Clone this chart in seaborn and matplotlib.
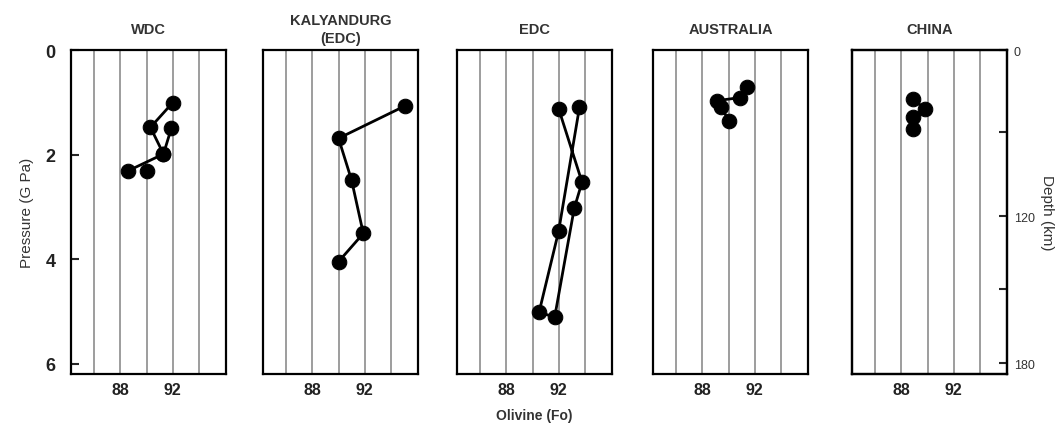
import numpy as np
import pandas as pd
import seaborn as sns
import matplotlib.pyplot as plt

sns.set_style('white')
plt.rcParams['font.family'] = ['Liberation Sans', 'DejaVu Sans']

# olivine Fo vs pressure (GPa), one list per site; seg = connected line
sites = ['WDC', 'KALYANDURG\n(EDC)', 'EDC', 'AUSTRALIA', 'CHINA']

wdc_fo = [92.0, 90.3, 91.3, 88.6, 91.9, 91.3, 90.0]
wdc_p = [1.01, 1.48, 1.99, 2.31, 1.50, 1.99, 2.31]
wdc_seg = [0, 0, 0, 0, 1, 1, 2]

kal_fo = [95.1, 90.0, 91.0, 91.9, 90.0]
kal_p = [1.07, 1.69, 2.49, 3.51, 4.05]
kal_seg = [0, 0, 0, 0, 0]

edc_fo = [92.0, 93.8, 93.2, 91.7, 90.5, 92.0, 93.6]
edc_p = [1.12, 2.53, 3.03, 5.11, 5.02, 3.47, 1.10]
edc_seg = [0, 0, 0, 0, 0, 0, 0]

aus_fo = [91.4, 90.9, 89.1, 89.4, 90.05]
aus_p = [0.71, 0.91, 0.97, 1.10, 1.35]
aus_seg = [0, 0, 0, 0, 0]

chn_fo = [88.9, 89.8, 88.9, 88.9]
chn_p = [0.94, 1.13, 1.29, 1.51]
chn_seg = [0, 0, 0, 0]

grid_fo = [86, 88, 90, 92, 94]
fo_labels = ['', '88', '', '92', '']
p_ticks = [0, 2, 4, 6]
depth_ticks_p = [0, 1.56, 3.18, 4.57, 5.99]
depth_labels = ['0', '', '120', '', '180']

frames = []
for name, fo, p, seg in zip(sites,
                            [wdc_fo, kal_fo, edc_fo, aus_fo, chn_fo],
                            [wdc_p, kal_p, edc_p, aus_p, chn_p],
                            [wdc_seg, kal_seg, edc_seg, aus_seg, chn_seg]):
    frames.append(pd.DataFrame({'site': name, 'fo': fo, 'p': p, 'seg': seg}))
df = pd.concat(frames, ignore_index=True)

fig = plt.figure(figsize=(10.64, 4.31), dpi=100)
W, H = 1064, 431
lefts = [71, 263, 457, 653, 852]
top, bottom = 51, 375

for i, name in enumerate(sites):
    ax = fig.add_axes([lefts[i] / W, (H - bottom) / H, 155 / W, (bottom - top) / H])
    sub = df[df.site == name]
    sns.lineplot(data=sub, x='fo', y='p', units='seg', estimator=None, sort=False,
                 color='black', marker='o', markersize=10.5, markeredgecolor='black',
                 linewidth=2.0, legend=False, ax=ax)
    ax.set_xlim(84.2, 96.1)
    ax.set_ylim(6.2, 0)
    ax.set_xticks(grid_fo)
    ax.set_xticklabels(fo_labels, fontsize=11.5, fontweight='bold', color='#222')
    ax.tick_params(axis='x', length=0, pad=6)
    ax.grid(axis='x', color='#8c8c8c', linewidth=1.2)
    ax.grid(axis='y', visible=False)
    for s in ax.spines.values():
        s.set_color('black')
        s.set_linewidth(1.6)
    ax.set_xlabel('')
    ax.set_ylabel('')
    if i == 0:
        ax.set_yticks(p_ticks)
        ax.set_yticklabels([str(t) for t in p_ticks], fontsize=13, fontweight='bold', color='#222')
        ax.tick_params(axis='y', direction='in', length=6, width=1.5, pad=11, left=True)
        ax.set_ylabel('Pressure (G Pa)', fontsize=11, color='#333', labelpad=8)
    else:
        ax.set_yticks([])
    ax.text(0.5, 1.065, name, transform=ax.transAxes, ha='center', va='center',
            fontsize=10.5, fontweight='bold', color='#333', linespacing=1.4)
    if i == 2:
        ax.set_xlabel('Olivine (Fo)', fontsize=10, fontweight='bold', color='#333', labelpad=8)
    if i == 4:
        ax2 = ax.twinx()
        ax2.set_ylim(6.2, 0)
        ax2.set_yticks(depth_ticks_p)
        ax2.set_yticklabels(depth_labels, fontsize=9, color='#333')
        ax2.tick_params(axis='y', direction='in', length=6, width=1.5, pad=5, right=True)
        ax2.set_ylabel('Depth (km)', fontsize=11, color='#333', rotation=270, labelpad=14)
        for s in ax2.spines.values():
            s.set_color('black')
            s.set_linewidth(1.6)

fig.savefig('out.png', dpi=100, facecolor='white')
